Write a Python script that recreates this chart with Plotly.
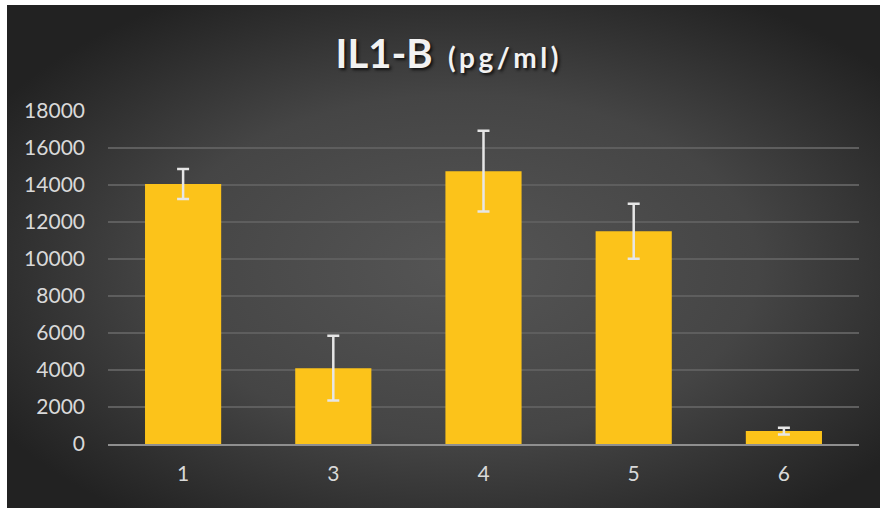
import base64
import plotly.graph_objects as go

categories = ["1", "3", "4", "5", "6"]
values = [14050, 4100, 14750, 11500, 700]
errors = [810, 1745, 2180, 1480, 180]
y_ticks = [0, 2000, 4000, 6000, 8000, 10000, 12000, 14000, 16000, 18000]
y_tick_labels = [str(v) for v in y_ticks]

W, H = 880, 508
L, R, T, B = 108, 21, 111, 64
pw, ph = W - L - R, H - T - B

svg = ('<svg xmlns="http://www.w3.org/2000/svg" width="873" height="503" viewBox="0 0 873 503">'
       '<defs><radialGradient id="g" cx="52%" cy="52%" r="62%">'
       '<stop offset="0" stop-color="#555555"/><stop offset="0.55" stop-color="#454545"/>'
       '<stop offset="1" stop-color="#222222"/></radialGradient></defs>'
       '<rect width="873" height="503" fill="url(#g)"/></svg>')
src = "data:image/svg+xml;base64," + base64.b64encode(svg.encode()).decode()

ts = "\u2009"
unit = ts.join("(pg/ml)")

fig = go.Figure()
fig.add_trace(go.Bar(
    x=categories, y=values,
    marker=dict(color="#fcc31a", line=dict(width=0)),
    error_y=dict(type="data", array=errors, visible=True,
                 color="#e6e6e6", thickness=2.5, width=6),
))

fig.update_layout(
    width=W, height=H,
    margin=dict(l=L, r=R, t=T, b=B, pad=0),
    paper_bgcolor="white",
    plot_bgcolor="rgba(0,0,0,0)",
    bargap=0.493,
    showlegend=False,
    font=dict(family="Lato, 'Open Sans', sans-serif", color="#d9d9d9"),
    title=dict(
        text=f"<b>IL1-B</b> \u2009<b><span style='font-size:28px'>{unit}</span></b>",
        font=dict(size=40, color="#f2f2f2", family="Lato, sans-serif",
                  shadow="2px 2px 3px #111111"),
        xref="paper", x=(447 - L) / pw, xanchor="center",
        yref="container", y=1 - 54 / H, yanchor="middle",
    ),
    xaxis=dict(
        showgrid=False, showline=True, linecolor="#8f8f8f", linewidth=2,
        ticks="", tickfont=dict(size=21, color="#d9d9d9"),
        ticklabelstandoff=10,
    ),
    yaxis=dict(
        range=[0, 18000], tickvals=y_ticks, ticktext=y_tick_labels,
        showgrid=True, gridcolor="#5e5e5e", gridwidth=1.5,
        zeroline=False, showline=False, ticks="",
        tickfont=dict(size=21, color="#d9d9d9"),
        ticklabelstandoff=22,
    ),
    images=[dict(
        source=src, xref="paper", yref="paper",
        x=(7 - L) / pw, y=(H - B - 5) / ph,
        sizex=873 / pw, sizey=503 / ph,
        xanchor="left", yanchor="top", sizing="stretch", layer="below",
    )],
)

fig.write_html("out.html", config={"displayModeBar": False},
               post_script="document.body.style.margin='0';")
